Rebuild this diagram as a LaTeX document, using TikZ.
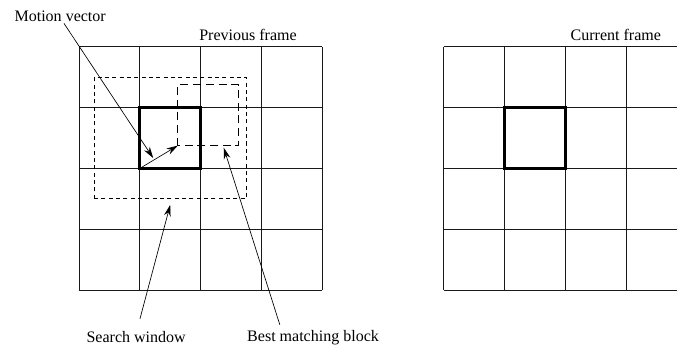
\documentclass[tikz,border=0pt]{standalone}
\usepackage{fontspec}
\setmainfont{Liberation Serif}
\usepackage{tikz}
\usetikzlibrary{
    arrows.meta,
    positioning,
    calc
}
\tikzset{
  cellgrid/.style = {draw, line width=0.5pt, black!90, step=1.6cm},
  cur/.style      = {draw, line width=2pt},
  swin/.style     = {draw, dashed, line width=0.5pt, dash pattern=on 3pt off 2.5pt},
  bmatch/.style   = {draw, line width=0.9pt, dash pattern=on 6pt off 3.5pt},
  lbl/.style      = {font=\fontsize{12}{14}\selectfont, inner sep=1pt},
  arr/.style      = {-{Stealth[length=8.5pt,width=5pt]}, line width=0.5pt}
}

\begin{document}
\begin{tikzpicture}[x=1.6cm,y=1.6cm]
    \clip (-1.3,-0.905) rectangle (9.836,4.77);

    % the two frames
    \draw[cellgrid] (0,0) grid (4,4);
    \draw[cellgrid] (6,0) grid (10,4);
    \draw[cur] (1,2) rectangle (2,3);
    \draw[cur] (7,2) rectangle (8,3);

    % search window and best match
    \draw[swin]   (0.25,1.5) rectangle (2.75,3.5);
    \draw[bmatch] (1.625,2.375) rectangle (2.625,3.375);

    \coordinate (blk)    at (1,2);
    \coordinate (best)   at (1.625,2.375);
    \coordinate (mvtip)  at (1.22,2.17);
    \coordinate (swtip)  at (1.5,1.40);
    \coordinate (bmbtip) at (2.38,2.34);

    \node[lbl] (prev) at (2.78,4.2)  {Previous frame};
    \node[lbl] (curr) at (8.83,4.2)  {Current frame};
    \node[lbl] (mv)   at (-0.31,4.5) {Motion vector};
    \node[lbl] (sw)   at (0.94,-0.78) {Search window};
    \node[lbl] (bmb)  at (3.85,-0.78) {Best matching block};

    \draw[arr] (blk) -- (best);
    \draw[arr] ([xshift=0.1cm]mv.south) -- (mvtip);
    \draw[arr] ([xshift=0.1cm,yshift=0.3cm]sw.north) -- (swtip);
    \draw[arr] ([xshift=0.9cm,yshift=0.1cm]bmb.north west) -- (bmbtip);
  \end{tikzpicture}
\end{document}
